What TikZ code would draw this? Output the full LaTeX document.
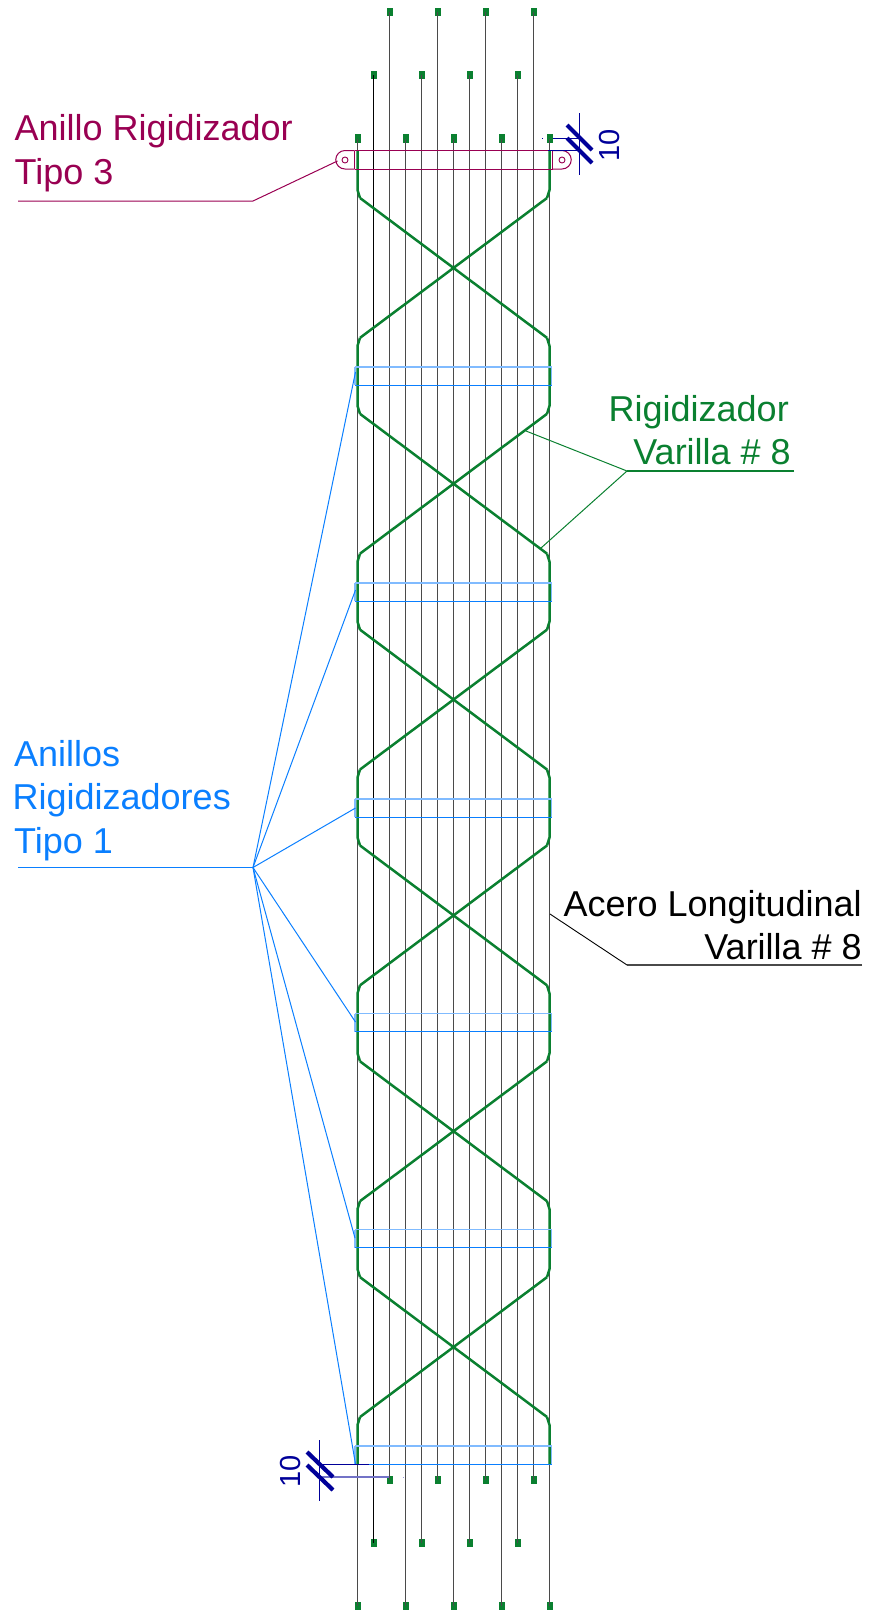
\documentclass[tikz,border=0pt]{standalone}
\usepackage{fontspec}
\setmainfont{Liberation Sans}
\definecolor{steel}{HTML}{0A8030}
\definecolor{bargray}{HTML}{4A4A4A}
\definecolor{maroon}{HTML}{990052}
\definecolor{skyb}{HTML}{0A7FFF}
\definecolor{skyl}{HTML}{80BBFF}
\definecolor{navy}{HTML}{000099}
\tikzset{
  bar/.style={draw=bargray,line width=1.8pt},
  blackbar/.style={draw=black,line width=1.3pt},
  barmark/.style={fill=steel,draw=none,minimum width=6pt,minimum height=8.5pt,inner sep=0pt,rectangle},
  tie/.style={draw=steel,line width=2.5pt,line join=round},
  ringtop/.style={draw=skyl,line width=1.8pt},
  ringside/.style={draw=skyl,line width=1.2pt},
  ringbot/.style={draw=skyb,line width=.9pt},
  lblue/.style={draw=skyb,line width=1pt},
  lgreen/.style={draw=steel,line width=1pt},
  lmaroon/.style={draw=maroon,line width=1pt},
  lblack/.style={draw=black,line width=.9pt},
  dim/.style={draw=navy,line width=.9pt},
  slash/.style={draw=navy,line width=4.2pt},
  lab/.style={font=\fontsize{36}{36}\selectfont,inner sep=0pt},
  dimtext/.style={font=\fontsize{29}{29}\selectfont,text=navy,inner sep=0pt,rotate=90,anchor=base},
}
\begin{document}
\begin{tikzpicture}[x=1pt,y=-1pt]
\useasboundingbox (0,0) rectangle (870,1610);
% longitudinal bars
\foreach \n/\xx in {1/357.5,2/405.5,3/453.5,4/501.5,5/549.5}{
  \node[barmark] (at\n) at (\xx,138.5) {};
  \node[barmark] (ab\n) at (\xx,1606) {};
  \draw[bar] (at\n.center) -- (ab\n.center);
}
\foreach \n/\xx in {2/421.5,3/469.5,4/517.5}{
  \node[barmark] (bt\n) at (\xx,75) {};
  \node[barmark] (bb\n) at (\xx,1543) {};
  \draw[bar] (bt\n.center) -- (bb\n.center);
}
\node[barmark] (bt1) at (373.5,75) {};
\node[barmark] (bb1) at (373.5,1543) {};
\draw[blackbar] (bt1.center) -- (bb1.center);
\foreach \n/\xx in {1/389.5,2/437.5,3/485.5,4/533.5}{
  \node[barmark] (ct\n) at (\xx,12) {};
  \node[barmark] (cb\n) at (\xx,1480) {};
  \draw[bar] (ct\n.center) -- (cb\n.center);
}
% stiffener bars
\foreach \k in {0,...,5}{
  \pgfmathsetmacro{\ca}{160+215.83*\k}
  \pgfmathsetmacro{\cb}{160+215.83*(\k+1)}
  \draw[tie] (360,\ca+38) -- (547,\cb-38);
  \draw[tie] (547,\ca+38) -- (360,\cb-38);
}
\foreach \k in {1,...,5}{
  \pgfmathsetmacro{\ca}{160+215.83*\k}
  \draw[tie] (360,\ca-38) -- (357.5,\ca-30) -- (357.5,\ca+30) -- (360,\ca+38);
  \draw[tie] (547,\ca-38) -- (549.5,\ca-30) -- (549.5,\ca+30) -- (547,\ca+38);
}
\draw[tie] (357.5,150) -- (357.5,190) -- (360,198);
\draw[tie] (549.5,150) -- (549.5,190) -- (547,198);
\draw[tie] (360,1417) -- (357.5,1425) -- (357.5,1464);
\draw[tie] (547,1417) -- (549.5,1425) -- (549.5,1464);
% type 1 rings
\foreach \n/\ct in {1/376,2/592,3/808,4/1022.5,5/1238.5,6/1455}{
  \coordinate (rtl\n) at (355,\ct-9);
  \coordinate (rtr\n) at (551.5,\ct-9);
  \coordinate (rbl\n) at (355,\ct+9);
  \coordinate (rbr\n) at (551.5,\ct+9);
  \draw[ringside] (rtl\n) -- (rbl\n) (rtr\n) -- (rbr\n);
  \draw[ringtop] (rtl\n) -- (rtr\n);
  \draw[ringbot] (rbl\n) -- (rbr\n);
}
% type 3 ring
\coordinate (rl) at (345,160);
\coordinate (rr) at (562,160);
\draw[lmaroon] (354.5,150.5) -- (552.5,150.5) (354.5,169) -- (552.5,169) (354.5,150.5) -- (354.5,169) (552.5,150.5) -- (552.5,169);
\draw[lmaroon] (354.5,150.5) -- (345,150.5) arc[start angle=90,end angle=270,radius=9.25pt] -- (354.5,169);
\draw[lmaroon] (552.5,150.5) -- (562,150.5) arc[start angle=90,end angle=-90,radius=9.25pt] -- (552.5,169);
\node[circle,draw=maroon,line width=.9pt,minimum size=6pt,inner sep=0pt] (cl) at (rl) {};
\node[circle,draw=maroon,line width=.9pt,minimum size=6pt,inner sep=0pt] (cr) at (rr) {};
% labels and leaders
\node[lab,text=maroon,anchor=base west] (t1) at (14.5,140) {Anillo Rigidizador};
\node[lab,text=maroon,anchor=base west] (t2) at (14.5,184) {Tipo 3};
\coordinate (m0) at (18,201);
\coordinate (m1) at (253,201);
\draw[lmaroon] (m0) -- (m1) -- (337.5,161);
\node[lab,text=skyb,anchor=base west] (u1) at (14,766) {Anillos};
\node[lab,text=skyb,anchor=base west] (u2) at (12.5,809) {Rigidizadores};
\node[lab,text=skyb,anchor=base west] (u3) at (14,853) {Tipo 1};
\coordinate (h0) at (18,867.5);
\coordinate (h1) at (253,867.5);
\draw[lblue,line width=1.6pt] (h0) -- (h1);
\coordinate (e1) at (355.5,372);
\coordinate (e2) at (355.5,590);
\coordinate (e3) at (355.5,808);
\coordinate (e4) at (355.5,1022);
\coordinate (e5) at (355,1238);
\coordinate (e6) at (355.5,1464);
\foreach \n in {1,...,6}{ \draw[lblue] (h1) -- (e\n); }
\node[lab,text=steel,anchor=base east] (v1) at (789,421) {Rigidizador};
\node[lab,text=steel,anchor=base east] (v2) at (791,464) {Varilla \# 8};
\coordinate (g0) at (794,471);
\coordinate (g1) at (627,471);
\draw[lgreen,line width=1.6pt] (g0) -- (g1);
\coordinate (g2) at (526,431);
\coordinate (g3) at (541,548);
\draw[lgreen] (g2) -- (g1) -- (g3);
\node[lab,text=black,anchor=base east] (w1) at (862,916) {Acero Longitudinal};
\node[lab,text=black,anchor=base east] (w2) at (862,959) {Varilla \# 8};
\coordinate (k0) at (862,965);
\coordinate (k1) at (627,965);
\coordinate (k2) at (550,914);
\draw[draw=bargray,line width=1.2pt] (k0) -- (k1);
\draw[lblack] (k1) -- (k2);
% top dimension
\coordinate (d1) at (579,113);
\coordinate (d2) at (579,175);
\draw[dim] (d1) -- (d2);
\draw[dim] (553,138) -- (579,138);
\draw[dim] (548,150.5) -- (579,150.5);
\draw[dim] (542,138) -- (543,138);
\draw[slash] (567,125) -- (592,150);
\draw[slash] (567,138) -- (592,163);
\node[dimtext] (dt) at (619,145) {10};
% bottom dimension
\coordinate (d3) at (319.5,1440);
\coordinate (d4) at (319.5,1501);
\draw[dim] (d3) -- (d4);
\draw[dim] (319.5,1464.5) -- (369,1464.5);
\draw[dim,draw=navy!55,line width=1.2pt] (319.5,1477) -- (389,1477);
\draw[dim,draw=navy!40] (402.5,1477) -- (404,1477);
\draw[slash] (307,1452) -- (333,1477);
\draw[slash] (307,1465) -- (333,1490);
\node[dimtext] (db) at (300.5,1471) {10};
\end{tikzpicture}
\end{document}
